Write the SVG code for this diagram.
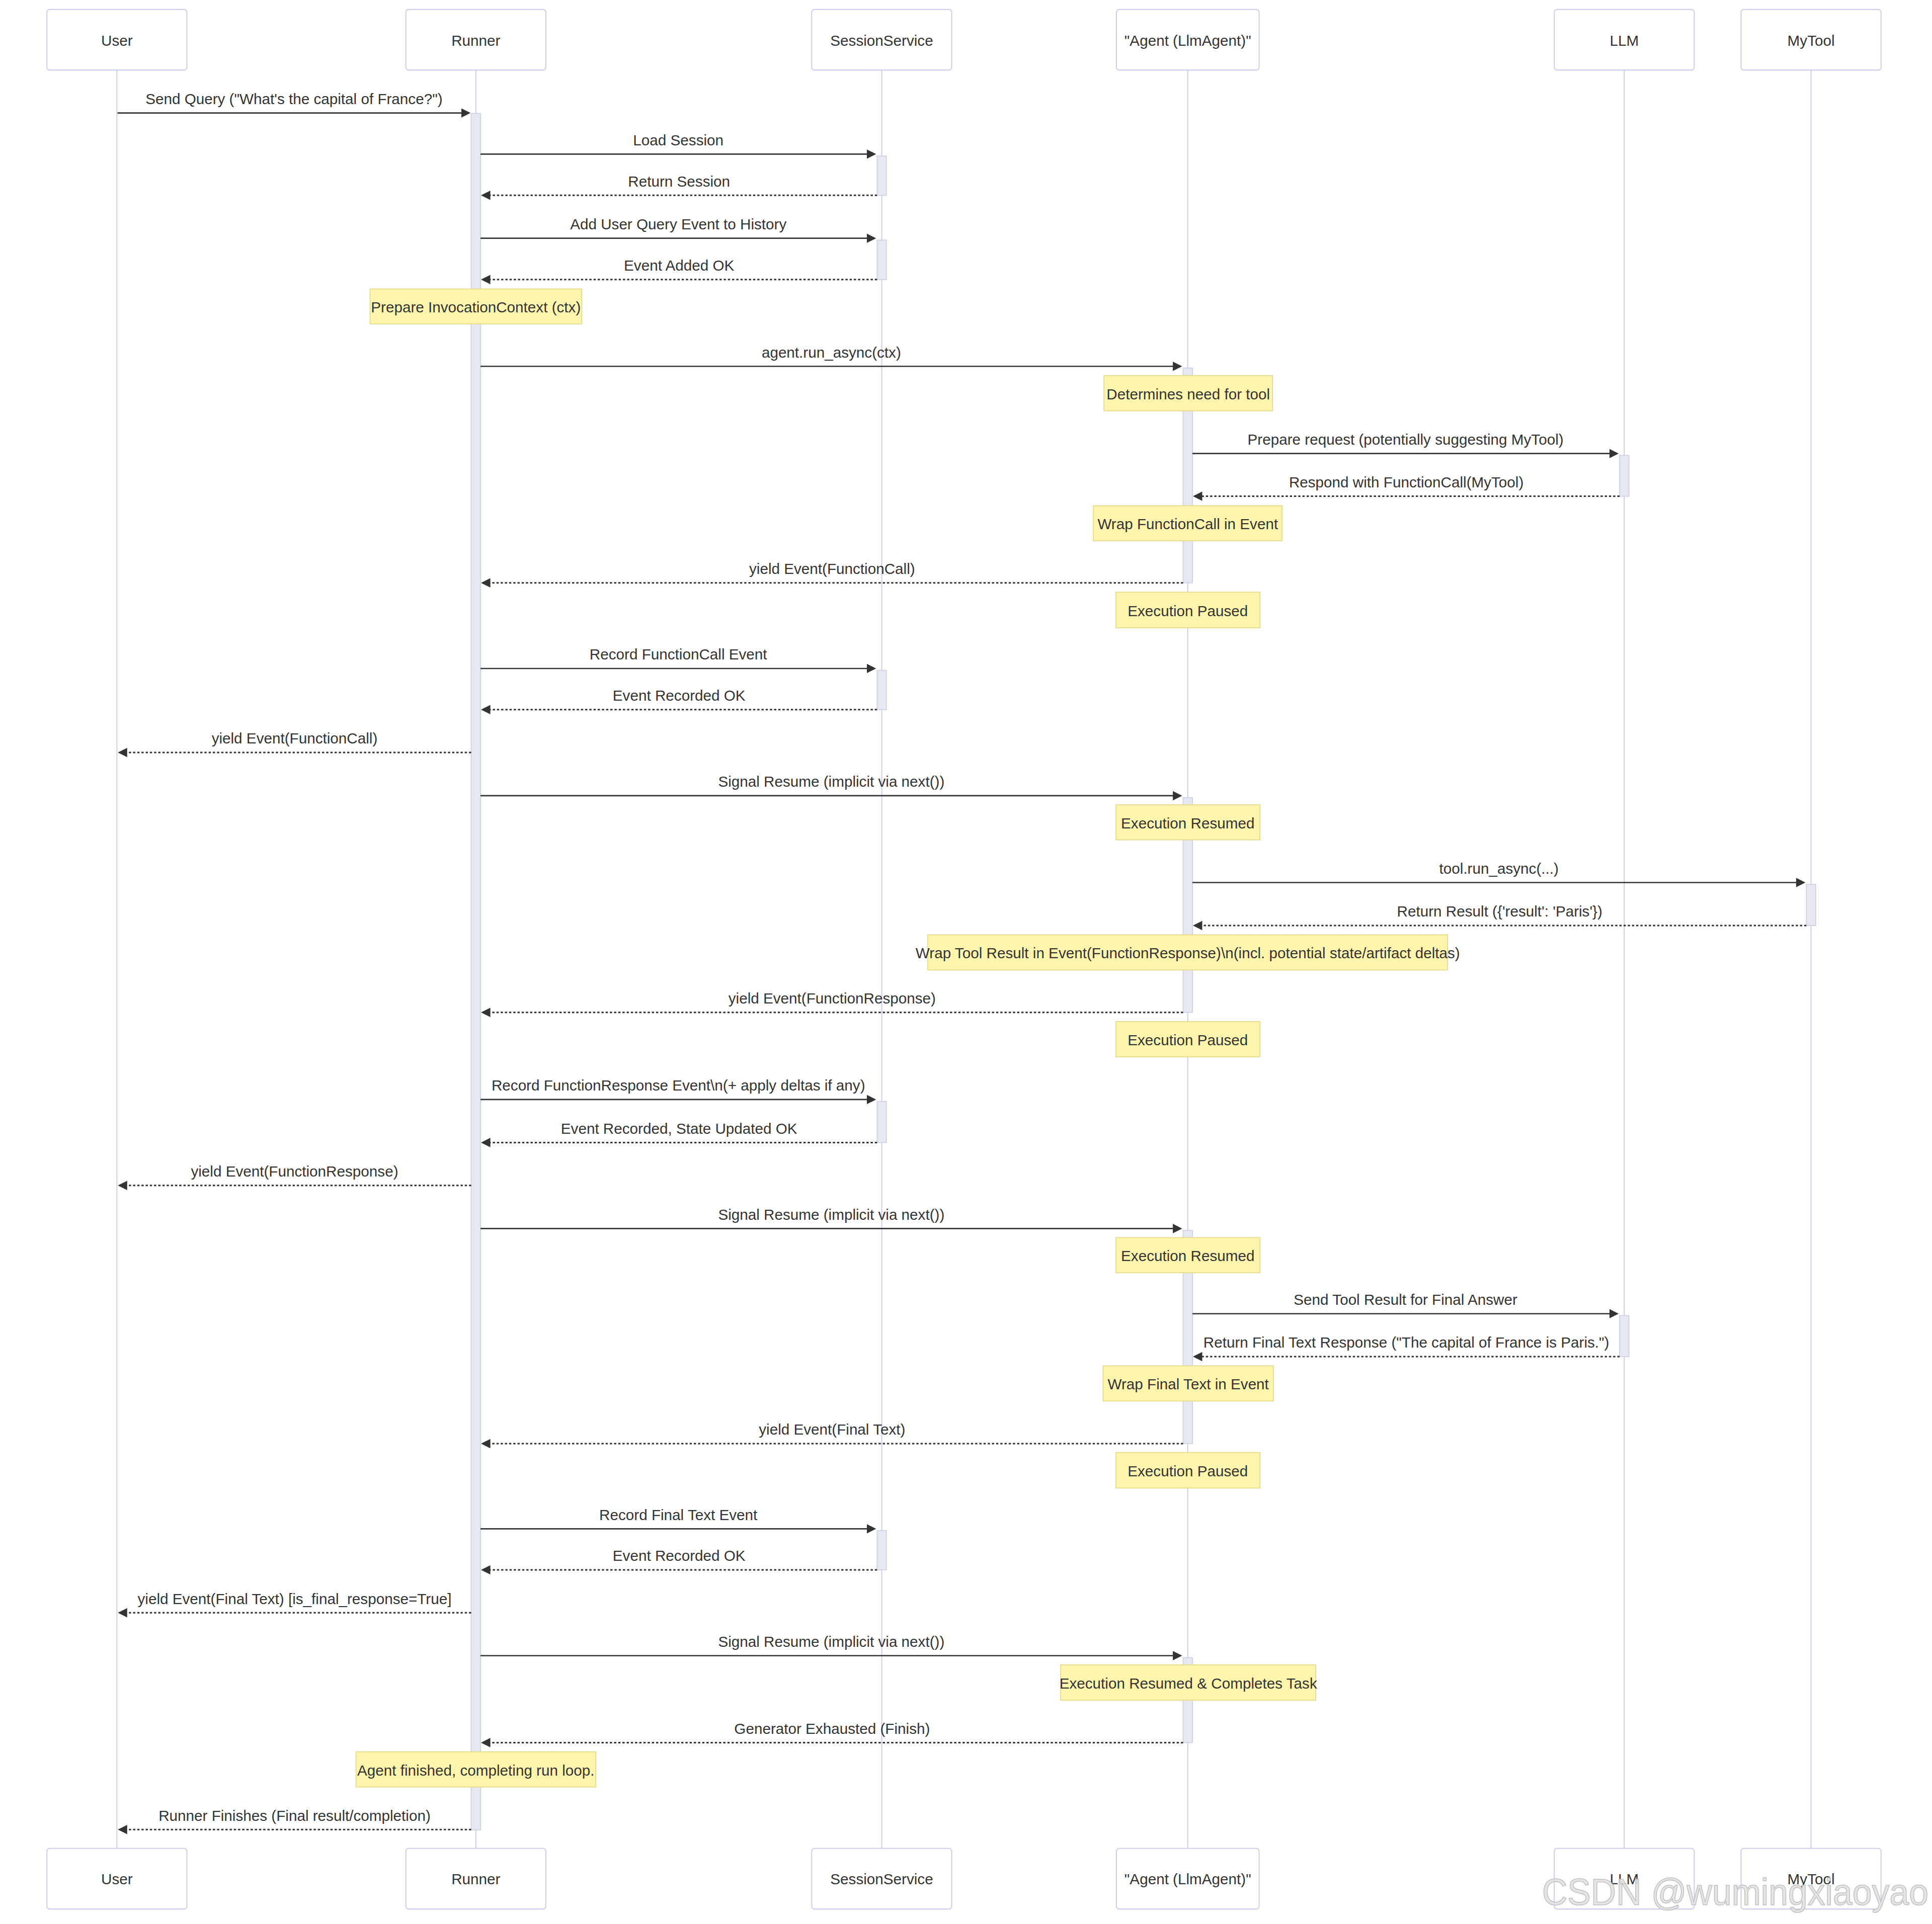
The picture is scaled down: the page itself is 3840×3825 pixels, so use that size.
<svg xmlns="http://www.w3.org/2000/svg" width="3840" height="3825" viewBox="0 0 3840 3825">
<style>
.actor{fill:#ffffff;stroke:#c9c9f0;stroke-width:1}
.life{stroke:#c9c9f0;stroke-width:1}
.act{fill:#e8e8f2;stroke:#d2d2e6;stroke-width:1}
.note{fill:#fff5ad;stroke:#e6dc8c;stroke-width:1}
.msg{stroke:#333333;stroke-width:1.4;fill:none;marker-end:url(#ah)}
.dot{stroke-width:1.6;stroke-dasharray:2.4 2.1}
.t{font-family:"Liberation Sans",Arial,sans-serif;font-size:16px;fill:#333333;text-anchor:middle}
.wm{font-family:"Liberation Sans",Arial,sans-serif;font-size:74px;fill:#e2e2e2;stroke:#c2c2c2;stroke-width:1.6;fill-opacity:0.9}
</style>
<defs>
<marker id="ah" markerUnits="userSpaceOnUse" markerWidth="12" markerHeight="12" refX="7.9" refY="5" orient="auto" viewBox="0 0 12 12">
<path d="M0,0 L10,5 L0,10 z" fill="#333333"/>
</marker>
</defs>
<rect x="0" y="0" width="3840" height="3825" fill="#ffffff"/>
<g transform="scale(1.8545)">
<g id="lifelines">
<line class="life" x1="125.3" y1="75" x2="125.3" y2="1981.5"/>
<line class="life" x1="510" y1="75" x2="510" y2="1981.5"/>
<line class="life" x1="945" y1="75" x2="945" y2="1981.5"/>
<line class="life" x1="1273" y1="75" x2="1273" y2="1981.5"/>
<line class="life" x1="1740.8" y1="75" x2="1740.8" y2="1981.5"/>
<line class="life" x1="1941" y1="75" x2="1941" y2="1981.5"/>
</g>
<g id="actor-User">
<rect class="actor" x="50.3" y="10.1" width="150" height="65" rx="3"/>
<text class="t" x="125.3" y="49">User</text>
<rect class="actor" x="50.3" y="1981.5" width="150" height="65" rx="3"/>
<text class="t" x="125.3" y="2020">User</text>
</g>
<g id="actor-Runner">
<rect class="actor" x="435" y="10.1" width="150" height="65" rx="3"/>
<text class="t" x="510" y="49">Runner</text>
<rect class="actor" x="435" y="1981.5" width="150" height="65" rx="3"/>
<text class="t" x="510" y="2020">Runner</text>
</g>
<g id="actor-SessionService">
<rect class="actor" x="870" y="10.1" width="150" height="65" rx="3"/>
<text class="t" x="945" y="49">SessionService</text>
<rect class="actor" x="870" y="1981.5" width="150" height="65" rx="3"/>
<text class="t" x="945" y="2020">SessionService</text>
</g>
<g id="actor-Agent">
<rect class="actor" x="1196.5" y="10.1" width="153" height="65" rx="3"/>
<text class="t" x="1273" y="49">"Agent (LlmAgent)"</text>
<rect class="actor" x="1196.5" y="1981.5" width="153" height="65" rx="3"/>
<text class="t" x="1273" y="2020">"Agent (LlmAgent)"</text>
</g>
<g id="actor-LLM">
<rect class="actor" x="1665.8" y="10.1" width="150" height="65" rx="3"/>
<text class="t" x="1740.8" y="49">LLM</text>
<rect class="actor" x="1665.8" y="1981.5" width="150" height="65" rx="3"/>
<text class="t" x="1740.8" y="2020">LLM</text>
</g>
<g id="actor-MyTool">
<rect class="actor" x="1866" y="10.1" width="150" height="65" rx="3"/>
<text class="t" x="1941" y="49">MyTool</text>
<rect class="actor" x="1866" y="1981.5" width="150" height="65" rx="3"/>
<text class="t" x="1941" y="2020">MyTool</text>
</g>
<g id="activations">
<rect class="act" x="505" y="121.6" width="10" height="1840.1"/>
<rect class="act" x="940" y="167.2" width="10" height="42.2"/>
<rect class="act" x="940" y="257.4" width="10" height="42.3"/>
<rect class="act" x="940" y="718.6" width="10" height="42.1"/>
<rect class="act" x="940" y="1180.7" width="10" height="44.1"/>
<rect class="act" x="940" y="1640.9" width="10" height="42"/>
<rect class="act" x="1268" y="394.5" width="10" height="230.3"/>
<rect class="act" x="1268" y="855" width="10" height="230.3"/>
<rect class="act" x="1268" y="1319" width="10" height="228.6"/>
<rect class="act" x="1268" y="1777" width="10" height="91.1"/>
<rect class="act" x="1735.8" y="488.2" width="10" height="43.8"/>
<rect class="act" x="1735.8" y="1410.3" width="10" height="44"/>
<rect class="act" x="1936" y="948.1" width="10" height="44.1"/>
</g>
<g id="connectors">
<line class="msg" x1="125.9" y1="121.1" x2="502.2" y2="121.1"/>
<text class="t" x="315.1" y="111.6">Send Query ("What's the capital of France?")</text>
<line class="msg" x1="515" y1="165.2" x2="936.9" y2="165.2"/>
<text class="t" x="727" y="155.7">Load Session</text>
<line class="msg dot" x1="940" y1="209.4" x2="517.6" y2="209.4"/>
<text class="t" x="727.8" y="199.9">Return Session</text>
<line class="msg" x1="515" y1="255.4" x2="936.9" y2="255.4"/>
<text class="t" x="727" y="245.9">Add User Query Event to History</text>
<line class="msg dot" x1="940" y1="299.7" x2="517.6" y2="299.7"/>
<text class="t" x="727.8" y="290.2">Event Added OK</text>
<line class="msg" x1="515" y1="392.7" x2="1264.9" y2="392.7"/>
<text class="t" x="891" y="383.2">agent.run_async(ctx)</text>
<line class="msg" x1="1278" y1="486.2" x2="1732.7" y2="486.2"/>
<text class="t" x="1506.4" y="476.7">Prepare request (potentially suggesting MyTool)</text>
<line class="msg dot" x1="1735.8" y1="532" x2="1280.6" y2="532"/>
<text class="t" x="1507.2" y="522.5">Respond with FunctionCall(MyTool)</text>
<line class="msg dot" x1="1268" y1="624.8" x2="517.6" y2="624.8"/>
<text class="t" x="891.8" y="615.3">yield Event(FunctionCall)</text>
<line class="msg" x1="515" y1="716.6" x2="936.9" y2="716.6"/>
<text class="t" x="727" y="707.1">Record FunctionCall Event</text>
<line class="msg dot" x1="940" y1="760.7" x2="517.6" y2="760.7"/>
<text class="t" x="727.8" y="751.2">Event Recorded OK</text>
<line class="msg dot" x1="505" y1="806.7" x2="128.4" y2="806.7"/>
<text class="t" x="315.7" y="797.2">yield Event(FunctionCall)</text>
<line class="msg" x1="515" y1="853" x2="1264.9" y2="853"/>
<text class="t" x="891" y="843.5">Signal Resume (implicit via next())</text>
<line class="msg" x1="1278" y1="946.1" x2="1932.9" y2="946.1"/>
<text class="t" x="1606.5" y="936.6">tool.run_async(...)</text>
<line class="msg dot" x1="1936" y1="992.2" x2="1280.6" y2="992.2"/>
<text class="t" x="1607.3" y="982.7">Return Result ({'result': 'Paris'})</text>
<line class="msg dot" x1="1268" y1="1085.3" x2="517.6" y2="1085.3"/>
<text class="t" x="891.8" y="1075.8">yield Event(FunctionResponse)</text>
<line class="msg" x1="515" y1="1178.7" x2="936.9" y2="1178.7"/>
<text class="t" x="727" y="1169.2">Record FunctionResponse Event\n(+ apply deltas if any)</text>
<line class="msg dot" x1="940" y1="1224.8" x2="517.6" y2="1224.8"/>
<text class="t" x="727.8" y="1215.3">Event Recorded, State Updated OK</text>
<line class="msg dot" x1="505" y1="1270.8" x2="128.4" y2="1270.8"/>
<text class="t" x="315.7" y="1261.3">yield Event(FunctionResponse)</text>
<line class="msg" x1="515" y1="1317" x2="1264.9" y2="1317"/>
<text class="t" x="891" y="1307.5">Signal Resume (implicit via next())</text>
<line class="msg" x1="1278" y1="1408.3" x2="1732.7" y2="1408.3"/>
<text class="t" x="1506.4" y="1398.8">Send Tool Result for Final Answer</text>
<line class="msg dot" x1="1735.8" y1="1454.3" x2="1280.6" y2="1454.3"/>
<text class="t" x="1507.2" y="1444.8">Return Final Text Response ("The capital of France is Paris.")</text>
<line class="msg dot" x1="1268" y1="1547.6" x2="517.6" y2="1547.6"/>
<text class="t" x="891.8" y="1538.1">yield Event(Final Text)</text>
<line class="msg" x1="515" y1="1638.9" x2="936.9" y2="1638.9"/>
<text class="t" x="727" y="1629.4">Record Final Text Event</text>
<line class="msg dot" x1="940" y1="1682.9" x2="517.6" y2="1682.9"/>
<text class="t" x="727.8" y="1673.4">Event Recorded OK</text>
<line class="msg dot" x1="505" y1="1728.9" x2="128.4" y2="1728.9"/>
<text class="t" x="315.7" y="1719.4">yield Event(Final Text) [is_final_response=True]</text>
<line class="msg" x1="515" y1="1774.9" x2="1264.9" y2="1774.9"/>
<text class="t" x="891" y="1765.4">Signal Resume (implicit via next())</text>
<line class="msg dot" x1="1268" y1="1868.1" x2="517.6" y2="1868.1"/>
<text class="t" x="891.8" y="1858.6">Generator Exhausted (Finish)</text>
<line class="msg dot" x1="505" y1="1961.3" x2="128.4" y2="1961.3"/>
<text class="t" x="315.7" y="1951.8">Runner Finishes (Final result/completion)</text>
</g>
<g id="note-prepare-ctx">
<rect class="note" x="396.6" y="309.8" width="226.9" height="37.4"/>
<text class="t" x="510" y="335">Prepare InvocationContext (ctx)</text>
</g>
<g id="note-determines">
<rect class="note" x="1183.2" y="402.6" width="180.6" height="37.8"/>
<text class="t" x="1273.5" y="428">Determines need for tool</text>
</g>
<g id="note-wrap-functioncall">
<rect class="note" x="1171.9" y="542.1" width="202.2" height="37.6"/>
<text class="t" x="1273" y="567.4">Wrap FunctionCall in Event</text>
</g>
<g id="note-paused-1">
<rect class="note" x="1196" y="634.8" width="154.3" height="38.2"/>
<text class="t" x="1273" y="660.4">Execution Paused</text>
</g>
<g id="note-resumed-1">
<rect class="note" x="1196" y="862.8" width="154.3" height="37.5"/>
<text class="t" x="1273" y="888">Execution Resumed</text>
</g>
<g id="note-wrap-tool-result">
<rect class="note" x="994.4" y="1002.1" width="557.1" height="37.7"/>
<text class="t" x="1273" y="1027.4">Wrap Tool Result in Event(FunctionResponse)\n(incl. potential state/artifact deltas)</text>
</g>
<g id="note-paused-2">
<rect class="note" x="1196" y="1095.2" width="154.3" height="37.7"/>
<text class="t" x="1273" y="1120.5">Execution Paused</text>
</g>
<g id="note-resumed-2">
<rect class="note" x="1196" y="1326.7" width="154.3" height="37.7"/>
<text class="t" x="1273" y="1352">Execution Resumed</text>
</g>
<g id="note-wrap-final">
<rect class="note" x="1182.2" y="1464.2" width="182.6" height="37.7"/>
<text class="t" x="1273.5" y="1489.5">Wrap Final Text in Event</text>
</g>
<g id="note-paused-3">
<rect class="note" x="1196" y="1557.1" width="154.3" height="38.1"/>
<text class="t" x="1273" y="1582.6">Execution Paused</text>
</g>
<g id="note-resumed-completes">
<rect class="note" x="1136.8" y="1784.7" width="273.4" height="37.9"/>
<text class="t" x="1273.5" y="1810.1">Execution Resumed &amp; Completes Task</text>
</g>
<g id="note-agent-finished">
<rect class="note" x="381.6" y="1877.9" width="256.9" height="37.8"/>
<text class="t" x="510" y="1903.3">Agent finished, completing run loop.</text>
</g>
</g>
<text class="wm" x="3065" y="3787" textLength="768" lengthAdjust="spacingAndGlyphs">CSDN @wumingxiaoyao</text>
</svg>
